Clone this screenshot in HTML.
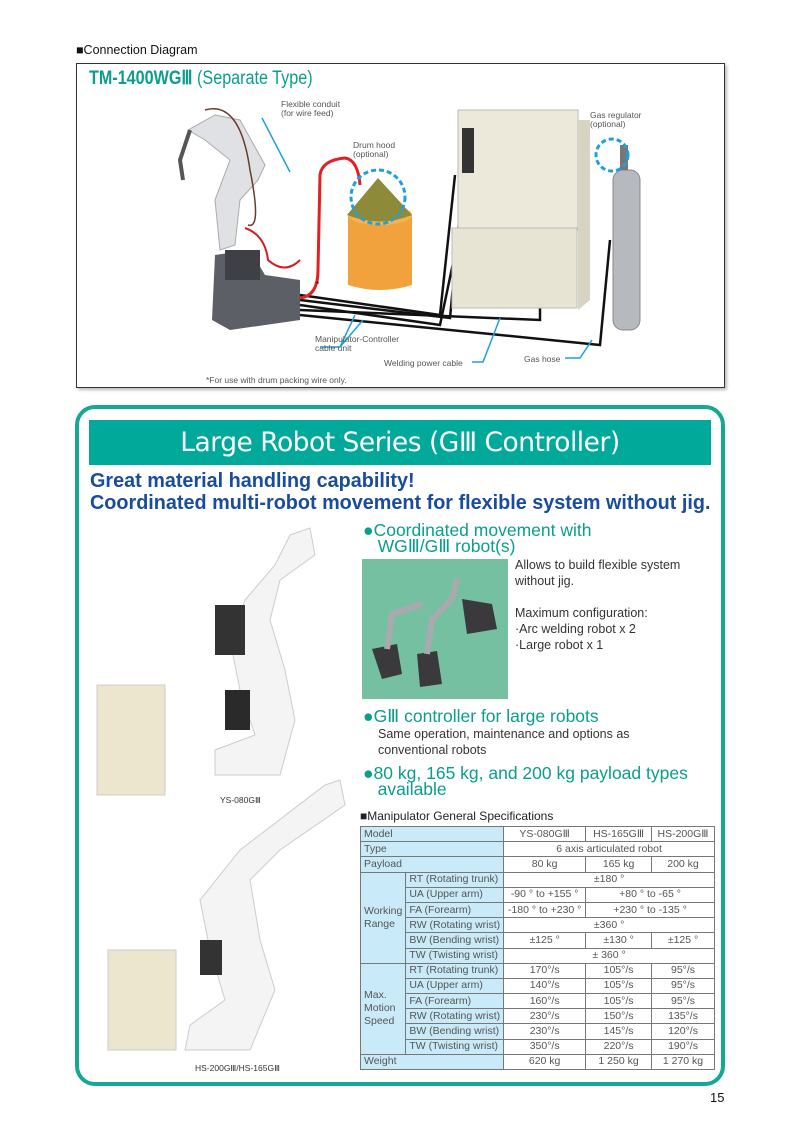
<!DOCTYPE html>
<html><head><meta charset="utf-8"><style>
*{margin:0;padding:0;box-sizing:border-box}
body{width:800px;height:1131px;background:#fff;position:relative;font-family:"Liberation Sans",sans-serif;overflow:hidden}
.a{position:absolute}
table{border-collapse:collapse;font-size:10.5px;color:#555}
td{border:1px solid #777;height:15.2px;padding:0 3px;white-space:nowrap;line-height:13px}
td.l{background:#c9ebf9}
td.c{text-align:center}
.bul{color:#0a9e8c;font-size:17.5px;line-height:16px}
.txt{color:#333;font-size:12.5px;line-height:16px}
</style></head><body>
<div class="a" style="left:76px;top:43px;font-size:12.5px;color:#111">■Connection Diagram</div>
<div class="a" style="left:76px;top:63px;width:649px;height:325px;border:1.5px solid #333;box-shadow:2px 2px 3px #bbb"></div>
<div class="a" style="left:89px;top:67px;font-size:19px;font-weight:bold;color:#0a9e8c;transform:scaleX(.85);transform-origin:left">TM-1400WGⅢ <span style="font-weight:normal">(Separate Type)</span></div>
<svg class="a" style="left:0;top:0" width="800" height="400">
<path d="M188 130 L215 115 L240 120 L265 165 L258 180 L240 200 L235 245 L220 250 L215 200 L230 160 L205 140Z" fill="#dfe1e4" stroke="#aaa"/>
<path d="M190 130 L180 160 L183 180" stroke="#555" stroke-width="4" fill="none"/>
<path d="M215 255 L250 250 L265 275 L300 280 L300 320 L230 330 L212 320Z" fill="#5c5f66"/>
<rect x="225" y="250" width="35" height="30" fill="#3e4046"/>
<path d="M205 110 Q240 100 250 170 Q262 230 248 225" stroke="#6a3a2a" stroke-width="1.5" fill="none"/>
<path d="M245 228 Q265 235 268 260 Q285 275 300 260" stroke="#c22" stroke-width="2" fill="none"/>
<g stroke="#111" stroke-width="2.5" fill="none">
<path d="M300 295 L440 315 L455 175"/><path d="M300 300 L450 318 L462 190"/>
<path d="M300 305 L440 325 L460 230"/><path d="M300 310 L540 320 L540 295"/>
<path d="M300 315 L600 345 L610 240"/>
</g>
<path d="M300 298 Q318 296 318 270 L320 175 Q322 160 345 158 Q358 160 360 185" stroke="#e42020" stroke-width="3" fill="none"/>
<path d="M348 215 L348 285 Q380 295 412 285 L412 215Z" fill="#f2a23c"/>
<ellipse cx="380" cy="215" rx="32" ry="10" fill="#f6b24c"/>
<path d="M347 215 L378 178 L412 215 Q380 228 347 215Z" fill="#8d8a3a"/>
<circle cx="378" cy="197" r="27" fill="none" stroke="#1ea0e0" stroke-width="3" stroke-dasharray="5 3"/>
<rect x="458" y="110" width="120" height="120" fill="#ece9da" stroke="#bbb"/>
<rect x="452" y="228" width="125" height="80" fill="#e8e4d3" stroke="#bbb"/>
<rect x="462" y="128" width="12" height="45" fill="#333"/>
<path d="M578 120 L590 120 L590 300 L578 310Z" fill="#d8d4c2"/>
<rect x="613" y="170" width="27" height="160" rx="10" fill="#b6b9bd" stroke="#888"/>
<rect x="620" y="145" width="8" height="25" fill="#777"/>
<circle cx="612" cy="155" r="16" fill="none" stroke="#1ea0e0" stroke-width="3" stroke-dasharray="5 3"/>
<g stroke="#1ea0e0" stroke-width="1.5" fill="none">
<path d="M262 118 L290 172"/>
<path d="M320 347 L340 347 L355 315 M340 347 L363 320"/>
<path d="M472 362 L483 362 L500 318"/>
<path d="M565 358 L580 358 L592 340"/>
</g>
<g font-size="8.5" fill="#555" font-family="Liberation Sans">
<text x="281" y="107">Flexible conduit</text><text x="281" y="116">(for wire feed)</text>
<text x="353" y="148">Drum hood</text><text x="353" y="157">(optional)</text>
<text x="590" y="118">Gas regulator</text><text x="590" y="127">(optional)</text>
<text x="315" y="342">Manipulator-Controller</text><text x="315" y="351">cable unit</text>
<text x="384" y="366">Welding power cable</text>
<text x="524" y="362">Gas hose</text>
<text x="206" y="383">*For use with drum packing wire only.</text>
<text x="316" y="287" fill="#111">*</text>
</g>
</svg>
<div class="a" style="left:75px;top:405px;width:650px;height:681px;border:4px solid #17a795;border-radius:20px"></div>
<div class="a" style="left:89px;top:420px;width:622px;height:45px;background:#00a99a;color:#fff;font-size:26.5px;text-align:center;line-height:45px;font-family:'DejaVu Sans',sans-serif;letter-spacing:-.5px">Large Robot Series (GⅢ Controller)</div>
<div class="a" style="left:90px;top:470px;color:#1a4c9c;font-size:20px;font-weight:bold;line-height:22px;white-space:nowrap;transform:scaleX(.99);transform-origin:left">Great material handling capability!<br>Coordinated multi-robot movement for flexible system without jig.</div>
<div class="a bul" style="left:363px;top:522px">●Coordinated movement with<br>&nbsp;&nbsp;&nbsp;WGⅢ/GⅢ robot(s)</div>
<div class="a" style="left:362px;top:559px;width:146px;height:140px;background:#76c0a2"></div>
<svg class="a" style="left:362px;top:559px" width="146" height="140"><g fill="#3a3a3c"><path d="M10 90 L35 85 L40 115 L20 120Z"/><path d="M55 95 L75 92 L80 125 L58 128Z"/><path d="M100 40 L130 45 L135 70 L105 75Z"/></g><g stroke="#a8aaae" stroke-width="6" fill="none"><path d="M25 90 L30 55 L60 45"/><path d="M65 95 L70 60 L90 40 L95 20"/></g></svg>
<div class="a txt" style="left:515px;top:557px">Allows to build flexible system<br>without jig.<br><br>Maximum configuration:<br>·Arc welding robot x 2<br>·Large robot x 1</div>
<div class="a bul" style="left:363px;top:708px">●GⅢ controller for large robots</div>
<div class="a txt" style="left:378px;top:726px">Same operation, maintenance and options as<br>conventional robots</div>
<div class="a bul" style="left:363px;top:765px">●80 kg, 165 kg, and 200 kg payload types<br>&nbsp;&nbsp;&nbsp;available</div>
<svg class="a" style="left:80px;top:520px" width="280" height="560">
<rect x="17" y="165" width="68" height="110" fill="#ece6cf" stroke="#ccc"/>
<path d="M210 15 L230 8 L235 35 L200 60 L190 100 L205 150 L215 200 L200 255 L135 255 L135 230 L175 215 L160 170 L150 120 L165 80 L195 45Z" fill="#f4f4f4" stroke="#ccc"/>
<rect x="135" y="85" width="30" height="50" fill="#333"/>
<rect x="145" y="170" width="25" height="40" fill="#2a2a2a"/>
<rect x="28" y="430" width="68" height="100" fill="#ece6cf" stroke="#ccc"/>
<path d="M245 265 L260 260 L265 285 L200 330 L170 360 L180 420 L195 470 L170 530 L105 530 L110 505 L145 480 L130 430 L120 380 L160 330Z" fill="#f4f4f4" stroke="#ccc"/>
<rect x="120" y="420" width="22" height="35" fill="#333"/>
<text x="140" y="283" font-size="8.5" fill="#333">YS-080GⅢ</text>
<text x="115" y="551" font-size="8.5" fill="#333">HS-200GⅢ/HS-165GⅢ</text>
</svg>
<div class="a" style="left:360px;top:809px;font-size:12px;color:#222">■Manipulator General Specifications</div>
<table class="a" style="left:360px;top:826px;width:355px">
<tr><td class="l" colspan="2">Model</td><td class="c" style="width:82px">YS-080GⅢ</td><td class="c" style="width:66px">HS-165GⅢ</td><td class="c" style="width:63px">HS-200GⅢ</td></tr>
<tr><td class="l" colspan="2">Type</td><td class="c" colspan="3">6 axis articulated robot</td></tr>
<tr><td class="l" colspan="2">Payload</td><td class="c">80 kg</td><td class="c">165 kg</td><td class="c">200 kg</td></tr>
<tr><td class="l" rowspan="6" style="width:45px">Working<br>Range</td><td class="l">RT (Rotating trunk)</td><td class="c" colspan="3">±180 °</td></tr>
<tr><td class="l">UA (Upper arm)</td><td class="c">-90 ° to +155 °</td><td class="c" colspan="2">+80 ° to -65 °</td></tr>
<tr><td class="l">FA (Forearm)</td><td class="c">-180 ° to +230 °</td><td class="c" colspan="2">+230 ° to -135 °</td></tr>
<tr><td class="l">RW (Rotating wrist)</td><td class="c" colspan="3">±360 °</td></tr>
<tr><td class="l">BW (Bending wrist)</td><td class="c">±125 °</td><td class="c">±130 °</td><td class="c">±125 °</td></tr>
<tr><td class="l">TW (Twisting wrist)</td><td class="c" colspan="3">± 360 °</td></tr>
<tr><td class="l" rowspan="6">Max.<br>Motion<br>Speed</td><td class="l">RT (Rotating trunk)</td><td class="c">170°/s</td><td class="c">105°/s</td><td class="c">95°/s</td></tr>
<tr><td class="l">UA (Upper arm)</td><td class="c">140°/s</td><td class="c">105°/s</td><td class="c">95°/s</td></tr>
<tr><td class="l">FA (Forearm)</td><td class="c">160°/s</td><td class="c">105°/s</td><td class="c">95°/s</td></tr>
<tr><td class="l">RW (Rotating wrist)</td><td class="c">230°/s</td><td class="c">150°/s</td><td class="c">135°/s</td></tr>
<tr><td class="l">BW (Bending wrist)</td><td class="c">230°/s</td><td class="c">145°/s</td><td class="c">120°/s</td></tr>
<tr><td class="l">TW (Twisting wrist)</td><td class="c">350°/s</td><td class="c">220°/s</td><td class="c">190°/s</td></tr>
<tr><td class="l" colspan="2">Weight</td><td class="c">620 kg</td><td class="c">1 250 kg</td><td class="c">1 270 kg</td></tr>
</table>
<div class="a" style="left:710px;top:1090px;font-size:13px;color:#111">15</div>
</body></html>
